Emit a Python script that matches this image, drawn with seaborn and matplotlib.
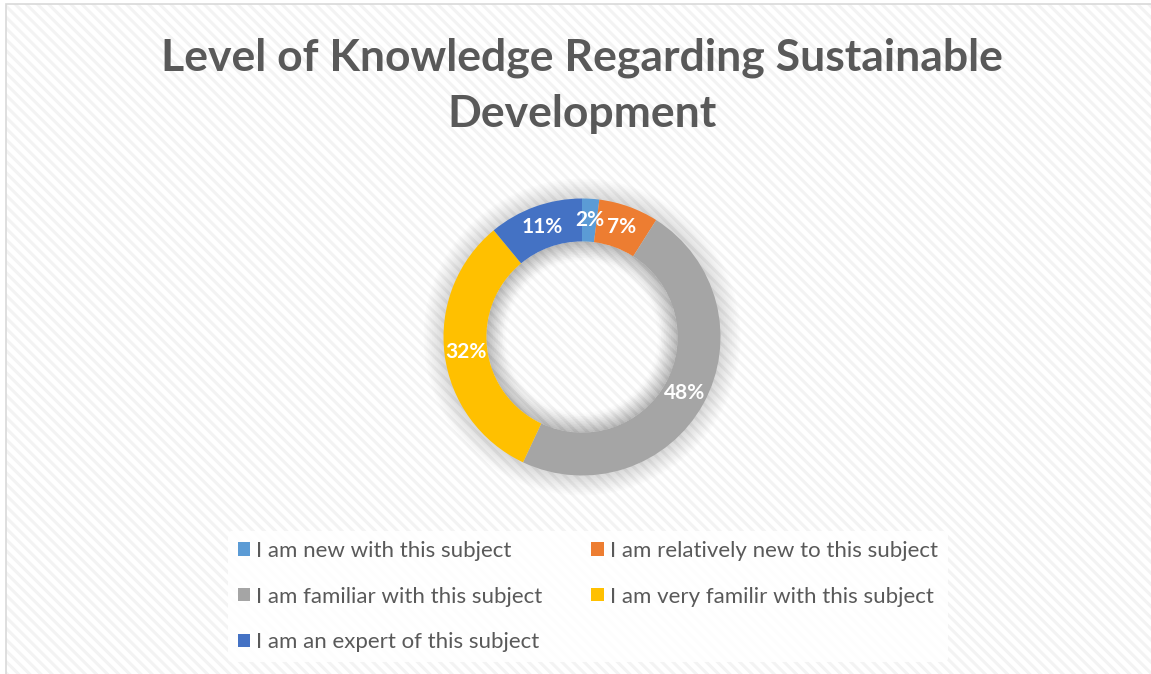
import matplotlib
matplotlib.use("Agg")
import numpy as np
import matplotlib.pyplot as plt
import seaborn as sns
from matplotlib.patches import Rectangle, Patch

# data
categories = ['I am new with this subject',
              'I am relatively new to this subject',
              'I am familiar with this subject',
              'I am very familir with this subject',
              'I am an expert of this subject']
shares = [2, 7, 48, 32, 11]
colors = ['#5B9BD5', '#ED7D31', '#A5A5A5', '#FFC000', '#4472C4']
title = 'Level of Knowledge Regarding Sustainable\nDevelopment'

sns.set_theme(style='white')
plt.rcParams['font.family'] = ['Lato', 'DejaVu Sans']
plt.rcParams['hatch.linewidth'] = 2.2

W, H = 1151, 674
fig = plt.figure(figsize=(W / 100, H / 100), dpi=100)
fig.patch.set_facecolor('white')

# striped background + border (behind the axes)
bg = Rectangle((6 / W, 0), 1, 1 - 4 / H, transform=fig.transFigure,
               facecolor='white', edgecolor='#f3f3f3', hatch='\\\\\\',
               linewidth=0, zorder=-2)
fig.patches.append(bg)
border = Rectangle((6 / W, -0.01), 1.1, 1 - 4 / H + 0.01, transform=fig.transFigure,
                   facecolor='none', edgecolor='#d9d9d9', linewidth=1.2, zorder=-1)
fig.patches.append(border)

# donut axes, centre (582,337), radius ~138px
r_px = 138.5
cx, cy = 582 / W, 1 - 337 / H
ax = fig.add_axes([cx - r_px / W, cy - r_px / H, 2 * r_px / W, 2 * r_px / H])
ax.set_facecolor('none')

hole = 1 - 0.31
# soft glow outside and inside the ring
for i in range(12):
    ax.pie([1], radius=1 + 0.012 * (i + 1), colors=['#000000'],
           wedgeprops=dict(width=0.31 + 0.024 * (i + 1), alpha=0.011, linewidth=0))
for i in range(10):
    ax.pie([1], radius=hole, colors=['#000000'],
           wedgeprops=dict(width=0.012 * (i + 1), alpha=0.011, linewidth=0))

wedges, _ = ax.pie(shares, colors=colors, startangle=90, counterclock=False,
                   radius=1, wedgeprops=dict(width=0.31, linewidth=0))
ax.set_xlim(-1, 1)
ax.set_ylim(-1, 1)
ax.set_aspect('equal')

for w, v in zip(wedges, shares):
    ang = np.deg2rad((w.theta1 + w.theta2) / 2)
    rr = 1 - 0.31 / 2
    ax.text(rr * np.cos(ang), rr * np.sin(ang), f'{v}%', ha='center', va='center',
            color='white', fontsize=15, fontweight='bold')

fig.text(582 / W, 1 - 86 / H, title, ha='center', va='center', fontsize=32,
         fontweight='bold', color='#595959', linespacing=1.5)

order = [0, 2, 4, 1, 3]
handles = [Patch(facecolor=colors[i], edgecolor='none') for i in order]
labels = [categories[i] for i in order]
leg = fig.legend(handles, labels, ncol=2, loc='upper left',
                 bbox_to_anchor=(228 / W, 1 - 531 / H), frameon=True,
                 fontsize=16, labelcolor='#595959', handlelength=0.55,
                 handleheight=0.55, handletextpad=0.27, labelspacing=1.15,
                 columnspacing=2.2, borderpad=0.45, borderaxespad=0)
leg.get_frame().set_facecolor('white')
leg.get_frame().set_edgecolor('none')
leg.get_frame().set_alpha(0.9)

fig.savefig('out.png', dpi=100)
